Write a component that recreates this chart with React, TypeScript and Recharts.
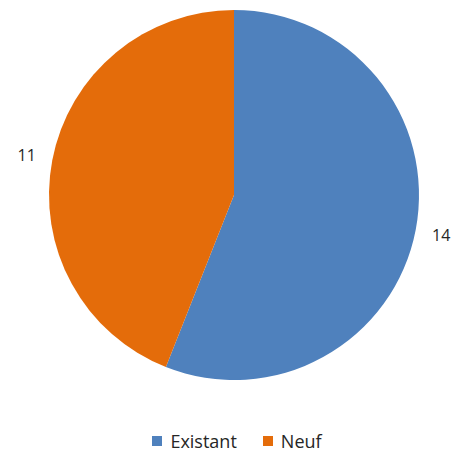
import React from "react";
import { PieChart, Pie, Cell, Legend } from "recharts";

const categories: string[] = ["Existant", "Neuf"];
const values: number[] = [14, 11];
const colors: string[] = ["#4F81BD", "#E46C0A"];

const data = categories.map((name, i) => ({ name, value: values[i] }));

const RADIAN = Math.PI / 180;

const renderLabel = (props: any) => {
  const { cx, cy, midAngle, value } = props;
  const r = 211;
  const x = cx + r * Math.cos(-midAngle * RADIAN);
  const y = cy + r * Math.sin(-midAngle * RADIAN);
  return (
    <text
      x={x}
      y={y}
      textAnchor="middle"
      dominantBaseline="central"
      fontSize={16}
      fontFamily="'Open Sans', sans-serif"
      fill="#262626"
    >
      {value}
    </text>
  );
};

const LegendContent: React.FC = () => (
  <div
    style={{
      display: "flex",
      justifyContent: "center",
      alignItems: "center",
      fontFamily: "'Open Sans', sans-serif",
      fontSize: 18,
      color: "#262626",
      paddingLeft: 16,
    }}
  >
    {categories.map((c, i) => (
      <div key={c} style={{ display: "flex", alignItems: "center", marginRight: i === 0 ? 26 : 0 }}>
        <span
          style={{
            display: "inline-block",
            width: 10,
            height: 10,
            background: colors[i],
            marginRight: 8,
          }}
        />
        <span>{c}</span>
      </div>
    ))}
  </div>
);

export default function App() {
  return (
    <div style={{ position: "absolute", left: 0, top: 0, background: "#fff" }}>
      <PieChart width={458} height={461} margin={{ top: 0, right: 0, bottom: 0, left: 0 }}>
        <Pie
          data={data}
          dataKey="value"
          nameKey="name"
          cx={234}
          cy={195}
          outerRadius={185}
          startAngle={90}
          endAngle={-270}
          stroke="none"
          label={renderLabel}
          labelLine={false}
          isAnimationActive={false}
        >
          {data.map((d, i) => (
            <Cell key={d.name} fill={colors[i]} />
          ))}
        </Pie>
        <Legend
          verticalAlign="bottom"
          content={<LegendContent />}
          wrapperStyle={{ top: 429, bottom: "auto", left: 0, width: 458 }}
        />
      </PieChart>
    </div>
  );
}
